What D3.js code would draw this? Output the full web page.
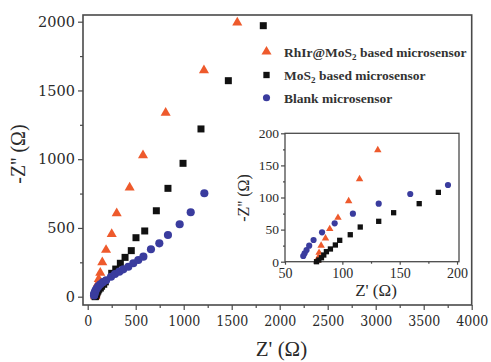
<!DOCTYPE html>
<html><head><meta charset="utf-8">
<script src="https://cdn.jsdelivr.net/npm/d3@7"></script>
<style>
html,body{margin:0;padding:0;background:#fff;}
svg{display:block;}
</style></head>
<body>
<svg id="c" width="491" height="362"></svg>
<script>
// ---- data ----
const seriesNames = ["RhIr@MoS2 based microsensor", "MoS2 based microsensor", "Blank microsensor"];
const triZr = [78.3, 78.9, 79.7, 81.5, 85.3, 89, 96.2, 105.5, 115, 130.9, 152, 191, 250, 302, 437, 576, 812, 1211, 1558];
const triZi = [2, 6, 14, 25, 36.4, 51, 68.5, 94.5, 128.8, 174, 250, 340, 456, 606, 793, 1028, 1338, 1647, 1993];
const sqZr = [77.5, 79.5, 81.8, 83.8, 86.1, 89.6, 93.9, 97.7, 106.9, 115.6, 131.7, 144.7, 167, 183.7, 250, 292, 340, 389, 454, 503, 594, 715, 836, 993, 1180, 1465, 1829];
const sqZi = [0, 2.6, 6.2, 10.4, 15.6, 19.8, 26, 33.3, 42, 54, 62.9, 76.3, 90.4, 108, 170, 201, 243, 286, 335, 429, 478, 625, 788, 970, 1220, 1571, 1971];
const ciZr = [65.9, 67.1, 68.8, 71.1, 74.9, 82.3, 93.3, 109.2, 131.7, 159.2, 192.1, 243, 284, 329, 371, 423, 475, 527, 580, 659, 746, 836, 958, 1073, 1215];
const ciZi = [8.9, 13, 18.2, 24.9, 33.8, 45.8, 59.8, 74.8, 90.4, 105.5, 119.5, 145, 165, 182, 199, 218, 243, 267, 291, 345, 388, 449, 527, 614, 752];
const mainXTicks = [0, 500, 1000, 1500, 2000, 2500, 3000, 3500, 4000];
const mainYTicks = [0, 500, 1000, 1500, 2000];
const insetXTicks = [50, 100, 150, 200];
const insetYTicks = [0, 50, 100, 150, 200];

const svg = d3.select("#c");
const frameCol = "#4a4a4a", textCol = "#2a2a2a";
const colors = ["#ee5a2c", "#111111", "#3a3c9e"];
const shapes = [d3.symbolTriangle, d3.symbolSquare, d3.symbolCircle];

const series = [
  triZr.map((v,i)=>({x:v,y:triZi[i]})),
  sqZr.map((v,i)=>({x:v,y:sqZi[i]})),
  ciZr.map((v,i)=>({x:v,y:ciZi[i]}))
];

// ---- main plot ----
const M = {l:83, t:15, r:471.7, b:305};
const x = d3.scaleLinear().domain([-49, 4000]).range([M.l, M.r]);
const y = d3.scaleLinear().domain([-60.4, 2048.7]).range([M.b, M.t]);

function minorBetween(t){ const out=[]; for(let i=0;i<t.length-1;i++) out.push((t[i]+t[i+1])/2); return out; }

function styleAxis(g, fam, size, stretch){
  g.select(".domain").remove();
  g.selectAll("line").attr("stroke", frameCol).attr("stroke-width", 1.2);
  g.selectAll("text").attr("fill", textCol).attr("font-family", fam).attr("font-size", size)
    .style("font-stretch", stretch||"normal");
}

// x axis main
let gx = svg.append("g").attr("transform",`translate(0,${M.b})`)
  .call(d3.axisBottom(x).tickValues(mainXTicks).tickSize(5).tickPadding(6).tickFormat(d3.format("d")));
styleAxis(gx, "'DejaVu Serif Condensed','DejaVu Serif'", "14px", "condensed");
let gxm = svg.append("g").attr("transform",`translate(0,${M.b})`)
  .call(d3.axisBottom(x).tickValues(minorBetween(mainXTicks)).tickSize(3).tickFormat(""));
styleAxis(gxm);

let gy = svg.append("g").attr("transform",`translate(${M.l},0)`)
  .call(d3.axisLeft(y).tickValues(mainYTicks).tickSize(5).tickPadding(3).tickFormat(d3.format("d")));
styleAxis(gy, "'DejaVu Serif'", "14.5px");
let gym = svg.append("g").attr("transform",`translate(${M.l},0)`)
  .call(d3.axisLeft(y).tickValues(minorBetween(mainYTicks)).tickSize(3).tickFormat(""));
styleAxis(gym);

svg.append("rect").attr("x",M.l).attr("y",M.t).attr("width",M.r-M.l).attr("height",M.b-M.t)
  .attr("fill","none").attr("stroke",frameCol).attr("stroke-width",1.6);

// axis titles
svg.append("text").attr("x",281.5).attr("y",356).attr("text-anchor","middle")
  .attr("font-family","'Liberation Serif'").attr("font-size","21px").attr("fill",textCol).text("Z' (Ω)");
svg.append("text").attr("transform","translate(25,154) rotate(-90)").attr("text-anchor","middle")
  .attr("font-family","'Liberation Serif'").attr("font-size","20px").attr("fill",textCol).text("-Z'' (Ω)");

// main points
const mainSizes = [44, 49, 52];
series.forEach((s,k)=>{
  svg.append("g").selectAll("path").data(s).join("path")
    .attr("transform",d=>`translate(${x(d.x)},${y(d.y)})`)
    .attr("d", d3.symbol().type(shapes[k]).size(mainSizes[k]))
    .attr("fill", colors[k]);
});

// legend
const legY = [51.7, 75, 97.7];
const lg = svg.append("g");
seriesNames.forEach((name,k)=>{
  lg.append("path").attr("transform",`translate(266.5,${legY[k]})`)
    .attr("d", d3.symbol().type(shapes[k]).size(k===2?40:(k===0?44:40))).attr("fill", colors[k]);
  const t = lg.append("text").attr("x",284).attr("y",legY[k]+5)
    .attr("font-family","'Liberation Serif'").attr("font-size","13.5px").attr("font-weight","bold").attr("fill","#333");
  const parts = name.split("MoS2");
  if(parts.length>1){
    t.append("tspan").text(parts[0]+"MoS");
    t.append("tspan").attr("font-size","9px").attr("dy",3).text("2");
    t.append("tspan").attr("dy",-3).text(parts[1]);
  } else t.text(name);
});

// ---- inset ----
const I = {l:285, t:133.3, r:459, b:261.7};
const xi = d3.scaleLinear().domain([50, 201.7]).range([I.l, I.r]);
const yi = d3.scaleLinear().domain([0, 200]).range([I.b, I.t]);
svg.append("rect").attr("x",I.l).attr("y",I.t).attr("width",I.r-I.l).attr("height",I.b-I.t).attr("fill","#fff");

let gxi = svg.append("g").attr("transform",`translate(0,${I.b})`)
  .call(d3.axisBottom(xi).tickValues(insetXTicks).tickSize(3).tickPadding(3).tickFormat(d3.format("d")));
styleAxis(gxi, "'Liberation Serif'", "14px");
let gxim = svg.append("g").attr("transform",`translate(0,${I.b})`)
  .call(d3.axisBottom(xi).tickValues(minorBetween(insetXTicks)).tickSize(2).tickFormat(""));
styleAxis(gxim);
let gyi = svg.append("g").attr("transform",`translate(${I.l},0)`)
  .call(d3.axisLeft(yi).tickValues(insetYTicks).tickSize(4).tickPadding(2).tickFormat(d3.format("d")));
styleAxis(gyi, "'Liberation Serif'", "13.5px");
let gyim = svg.append("g").attr("transform",`translate(${I.l},0)`)
  .call(d3.axisLeft(yi).tickValues(minorBetween(insetYTicks)).tickSize(2).tickFormat(""));
styleAxis(gyim);

svg.append("rect").attr("x",I.l).attr("y",I.t).attr("width",I.r-I.l).attr("height",I.b-I.t)
  .attr("fill","none").attr("stroke",frameCol).attr("stroke-width",1.3);

svg.append("text").attr("x",376).attr("y",296).attr("text-anchor","middle")
  .attr("font-family","'Liberation Serif'").attr("font-size","17px").attr("fill",textCol).text("Z' (Ω)");
svg.append("text").attr("transform","translate(249,198) rotate(-90)").attr("text-anchor","middle")
  .attr("font-family","'Liberation Serif'").attr("font-size","16px").attr("fill",textCol).text("-Z'' (Ω)");

const insetSizes = [24, 28, 30];
series.forEach((s,k)=>{
  svg.append("g").selectAll("path")
    .data(s.filter(d=>d.x<=xi.domain()[1] && d.y<=yi.domain()[1])).join("path")
    .attr("transform",d=>`translate(${xi(d.x)},${yi(d.y)})`)
    .attr("d", d3.symbol().type(shapes[k]).size(insetSizes[k]))
    .attr("fill", colors[k]);
});
</script>
</body></html>
